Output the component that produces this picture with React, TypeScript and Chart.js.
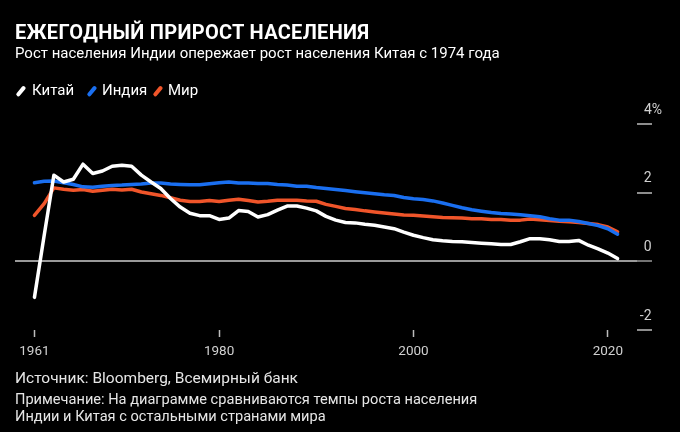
import React, { useEffect, useRef } from "react";
import { Chart, registerables } from "chart.js";

Chart.register(...registerables);

const years = [
  1961, 1962, 1963, 1964, 1965, 1966, 1967, 1968, 1969, 1970,
  1971, 1972, 1973, 1974, 1975, 1976, 1977, 1978, 1979, 1980,
  1981, 1982, 1983, 1984, 1985, 1986, 1987, 1988, 1989, 1990,
  1991, 1992, 1993, 1994, 1995, 1996, 1997, 1998, 1999, 2000,
  2001, 2002, 2003, 2004, 2005, 2006, 2007, 2008, 2009, 2010,
  2011, 2012, 2013, 2014, 2015, 2016, 2017, 2018, 2019, 2020,
  2021,
];

const china = [
  -1.05, 0.75, 2.51, 2.31, 2.39, 2.83, 2.56, 2.63, 2.77, 2.8,
  2.77, 2.51, 2.31, 2.12, 1.83, 1.58, 1.4, 1.33, 1.33, 1.22,
  1.26, 1.48, 1.45, 1.29, 1.36, 1.49, 1.61, 1.61, 1.55, 1.47,
  1.31, 1.2, 1.13, 1.12, 1.08, 1.05, 1.0, 0.95, 0.85, 0.76,
  0.69, 0.63, 0.6, 0.58, 0.57, 0.55, 0.53, 0.51, 0.49, 0.49,
  0.57, 0.66, 0.66, 0.63, 0.58, 0.58, 0.61, 0.47, 0.36, 0.24,
  0.08,
];

const india = [
  2.29, 2.33, 2.34, 2.29, 2.24, 2.17, 2.16, 2.19, 2.21, 2.22,
  2.24, 2.25, 2.28, 2.28, 2.25, 2.24, 2.23, 2.23, 2.26, 2.29,
  2.31, 2.28, 2.28, 2.27, 2.27, 2.24, 2.22, 2.19, 2.19, 2.15,
  2.12, 2.09, 2.06, 2.03, 2.0, 1.97, 1.94, 1.92, 1.86, 1.82,
  1.8, 1.76, 1.7, 1.63, 1.56, 1.5, 1.46, 1.42, 1.39, 1.38,
  1.36, 1.33, 1.3, 1.24, 1.2, 1.2, 1.16, 1.1, 1.04, 0.95,
  0.79,
];

const world = [
  1.34, 1.68, 2.14, 2.1, 2.07, 2.09, 2.04, 2.07, 2.1, 2.08,
  2.1, 2.02, 1.97, 1.92, 1.85, 1.78, 1.74, 1.74, 1.77, 1.74,
  1.78, 1.81, 1.77, 1.73, 1.75, 1.78, 1.78, 1.78, 1.76, 1.75,
  1.66, 1.6, 1.54, 1.51, 1.47, 1.44, 1.41, 1.38, 1.35, 1.34,
  1.32, 1.3, 1.28, 1.27, 1.26, 1.24, 1.24, 1.22, 1.22, 1.2,
  1.2, 1.23, 1.21, 1.19, 1.17, 1.15, 1.13, 1.1, 1.07, 1.0,
  0.86,
];

const xTicks = [1961, 1980, 2000, 2020];
const yTicks = [-2, 0, 2, 4];
const seriesNames = ["Китай", "Индия", "Мир"];
const seriesColors = ["#ffffff", "#1a6ff0", "#f0552a"];

const titleText = "ЕЖЕГОДНЫЙ ПРИРОСТ НАСЕЛЕНИЯ";
const subtitleText = "Рост населения Индии опережает рост населения Китая с 1974 года";
const sourceText = "Источник: Bloomberg, Всемирный банк";
const noteLines = [
  "Примечание: На диаграмме сравниваются темпы роста населения",
  "Индии и Китая с остальными странами мира",
];

const FONT = "Roboto, 'Noto Sans', sans-serif";

export default function App() {
  const ref = useRef<HTMLCanvasElement>(null);

  useEffect(() => {
    if (!ref.current) return;
    const seriesValues = [china, india, world];
    const chart = new Chart(ref.current, {
      type: "line",
      data: {
        datasets: seriesValues.map((vals, i) => ({
          label: seriesNames[i],
          data: years.map((y, j) => ({ x: y, y: vals[j] })),
          borderColor: seriesColors[i],
          backgroundColor: seriesColors[i],
          borderWidth: 3.5,
          pointRadius: 0,
          tension: 0,
          borderJoinStyle: "round",
          borderCapStyle: "round",
          fill: false,
        })),
      },
      options: {
        animation: false,
        responsive: false,
        maintainAspectRatio: false,
        layout: { padding: { left: 15, top: 124, right: 28, bottom: 71 } },
        plugins: {
          legend: { display: false },
          tooltip: { enabled: false },
        },
        scales: {
          x: {
            type: "linear",
            min: 1959,
            max: 2023,
            afterBuildTicks: (s: any) => {
              s.ticks = xTicks.map((v) => ({ value: v }));
            },
            afterFit: (s: any) => {
              s.height = 31;
            },
            border: { display: false },
            grid: {
              drawOnChartArea: false,
              drawTicks: true,
              tickLength: 7,
              tickColor: "#bdbdbd",
              tickWidth: 1.5,
            },
            ticks: {
              autoSkip: false,
              maxRotation: 0,
              color: "#d0d0d0",
              padding: 7,
              font: { family: FONT, size: 13.5 },
              callback: (v: any) => String(v),
            },
          },
          y: {
            position: "right",
            min: -2,
            max: 4,
            afterBuildTicks: (s: any) => {
              s.ticks = yTicks.map((v) => ({ value: v }));
            },
            afterFit: (s: any) => {
              s.width = 15;
            },
            border: { display: false },
            grid: {
              drawOnChartArea: true,
              color: (c: any) =>
                c.tick && c.tick.value === 0 ? "#9a9a9a" : "rgba(0,0,0,0)",
              lineWidth: 2,
              tickLength: 15,
              tickColor: (c: any) =>
                c.tick && c.tick.value === 0 ? "#9a9a9a" : "#bdbdbd",
              tickWidth: 1.5,
            },
            ticks: {
              autoSkip: false,
              mirror: true,
              crossAlign: "near",
              color: "#d0d0d0",
              padding: 25,
              labelOffset: -14,
              font: { family: FONT, size: 14 },
              callback: (v: any) => (v === 4 ? "4%" : String(v) + "   "),
            },
          },
        },
      },
    } as any);
    return () => chart.destroy();
  }, []);

  const abs = (extra: React.CSSProperties): React.CSSProperties => ({
    position: "absolute",
    whiteSpace: "pre",
    fontFamily: FONT,
    ...extra,
  });

  return (
    <div
      style={{
        position: "fixed",
        left: 0,
        top: 0,
        width: 680,
        height: 432,
        background: "#000",
        overflow: "hidden",
      }}
    >
      <canvas
        ref={ref}
        width={680}
        height={432}
        style={{ position: "absolute", left: 0, top: 0, width: 680, height: 432 }}
      />
      <div
        style={abs({
          left: 15,
          top: 22,
          fontSize: 20,
          lineHeight: "20px",
          fontWeight: 700,
          letterSpacing: 0.3,
          color: "#fff",
        })}
      >
        {titleText}
      </div>
      <div
        style={abs({
          left: 15,
          top: 46,
          fontSize: 15,
          lineHeight: "15px",
          color: "#fff",
        })}
      >
        {subtitleText}
      </div>
      {seriesNames.map((name, i) => {
        const slashX = [17, 88, 154][i];
        const textX = [32, 102, 168][i];
        return (
          <React.Fragment key={name}>
            <div
              style={{
                position: "absolute",
                left: slashX + 2,
                top: 85,
                width: 3.5,
                height: 12,
                borderRadius: 1.75,
                background: seriesColors[i],
                transform: "rotate(40deg)",
              }}
            />
            <div
              style={abs({
                left: textX,
                top: 83,
                fontSize: 15,
                lineHeight: "15px",
                color: "#fff",
              })}
            >
              {name}
            </div>
          </React.Fragment>
        );
      })}
      <div
        style={abs({
          left: 15,
          top: 371,
          fontSize: 15.5,
          lineHeight: "15.5px",
          color: "#e6e6e6",
        })}
      >
        {sourceText}
      </div>
      {noteLines.map((t, i) => (
        <div
          key={i}
          style={abs({
            left: 15,
            top: 392 + i * 17,
            fontSize: 14.6,
            lineHeight: "14.6px",
            color: "#e6e6e6",
          })}
        >
          {t}
        </div>
      ))}
    </div>
  );
}
